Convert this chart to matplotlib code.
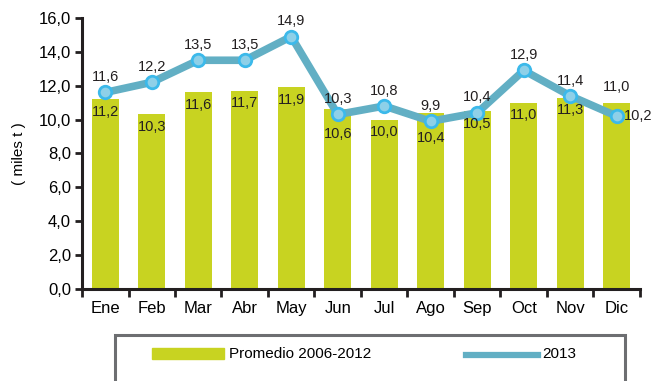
import matplotlib
matplotlib.use("Agg")
import matplotlib.pyplot as plt
from matplotlib.patches import Rectangle
from matplotlib.lines import Line2D
import numpy as np

plt.rcParams['font.family'] = ['Liberation Sans', 'DejaVu Sans']

months = ["Ene", "Feb", "Mar", "Abr", "May", "Jun", "Jul", "Ago", "Sep", "Oct", "Nov", "Dic"]
promedio = [11.2, 10.3, 11.6, 11.7, 11.9, 10.6, 10.0, 10.4, 10.5, 11.0, 11.3, 11.0]
y2013 = [11.6, 12.2, 13.5, 13.5, 14.9, 10.3, 10.8, 9.9, 10.4, 12.9, 11.4, 10.2]
promedio_labels = ["11,2", "10,3", "11,6", "11,7", "11,9", "10,6", "10,0", "10,4", "10,5", "11,0", "11,3", "11,0"]
y2013_labels = ["11,6", "12,2", "13,5", "13,5", "14,9", "10,3", "10,8", "9,9", "10,4", "12,9", "11,4", "10,2"]
yticks = np.arange(0, 16.1, 2.0)

green = "#c8d321"
blue_line = "#62afc4"
blue_edge = "#3cb9ea"
blue_fill = "#8ed0e8"
ink = "#231f20"

fig = plt.figure(figsize=(6.51, 3.81), dpi=100)
ax = fig.add_axes([82 / 651, 0.2415, 558 / 651, 0.7115])

x = np.arange(len(months))
ax.bar(x, promedio, width=0.57, color=green, zorder=2)
ax.plot(x, y2013, color=blue_line, lw=5.5, zorder=3, solid_joinstyle="miter")
ax.plot(x, y2013, ls="none", marker="o", ms=9, mfc=blue_fill, mec=blue_edge, mew=2, zorder=4)

ax.set_xlim(-0.5, len(months) - 0.5)
ax.set_ylim(0, 16)
ax.set_yticks(yticks)
ax.set_yticklabels([f"{v:.1f}".replace(".", ",") for v in yticks], fontsize=12)
ax.set_xticks(x)
ax.set_xticklabels(months, fontsize=12)
ax.tick_params(axis="x", length=0, pad=9)
ax.set_xticks(np.arange(-0.5, len(months) + 0.5, 1), minor=True)
ax.tick_params(axis="x", which="minor", length=6, width=2, direction="out", color=ink)
ax.tick_params(axis="y", length=5, width=2, direction="out", color=ink, pad=3)

for s in ["top", "right"]:
    ax.spines[s].set_visible(False)
for s in ["left", "bottom"]:
    ax.spines[s].set_linewidth(2.2)
    ax.spines[s].set_color(ink)

ax.set_ylabel("( miles t )", fontsize=11, labelpad=9)

# bar value labels: inside the bar top, pushed down where the line point sits on it,
# and above the bar for December where the point covers the top
bar_offsets = {5: -13, 7: -13}
for i, (xi, v, t) in enumerate(zip(x, promedio, promedio_labels)):
    if i == 11:
        ax.annotate(t, (xi, v), xytext=(0, 6), textcoords="offset points",
                    ha="center", va="bottom", fontsize=10.5, color=ink, zorder=5)
        continue
    ax.annotate(t, (xi, v), xytext=(0, bar_offsets.get(i, -4)), textcoords="offset points",
                ha="center", va="top", fontsize=10.5, color=ink, zorder=5)

# 2013 value labels above each point, December to the right
for i, (xi, v, t) in enumerate(zip(x, y2013, y2013_labels)):
    if i == 11:
        ax.annotate(t, (xi, v), xytext=(5, 0), textcoords="offset points",
                    ha="left", va="center", fontsize=10.5, color=ink, zorder=5)
        continue
    ax.annotate(t, (xi, v), xytext=(0, 6), textcoords="offset points",
                ha="center", va="bottom", fontsize=10.5, color=ink, zorder=5)

# legend box along the bottom
fig.patches.append(Rectangle((115 / 651, -0.05), 510 / 651, 0.05 + (381 - 335) / 381,
                             transform=fig.transFigure, fill=False,
                             edgecolor="#6d6e71", lw=2.2))
fig.patches.append(Rectangle((152 / 651, 1 - 359 / 381), 72 / 651, 11 / 381,
                             transform=fig.transFigure, color=green))
fig.text(229 / 651, 1 - 354 / 381, "Promedio 2006-2012", fontsize=11, va="center", ha="left")
fig.lines.append(Line2D([466 / 651, 538 / 651], [1 - 355 / 381] * 2,
                        transform=fig.transFigure, color=blue_line, lw=4.5))
fig.text(542 / 651, 1 - 354 / 381, "2013", fontsize=11, va="center", ha="left")

fig.savefig("out.png", dpi=100)
